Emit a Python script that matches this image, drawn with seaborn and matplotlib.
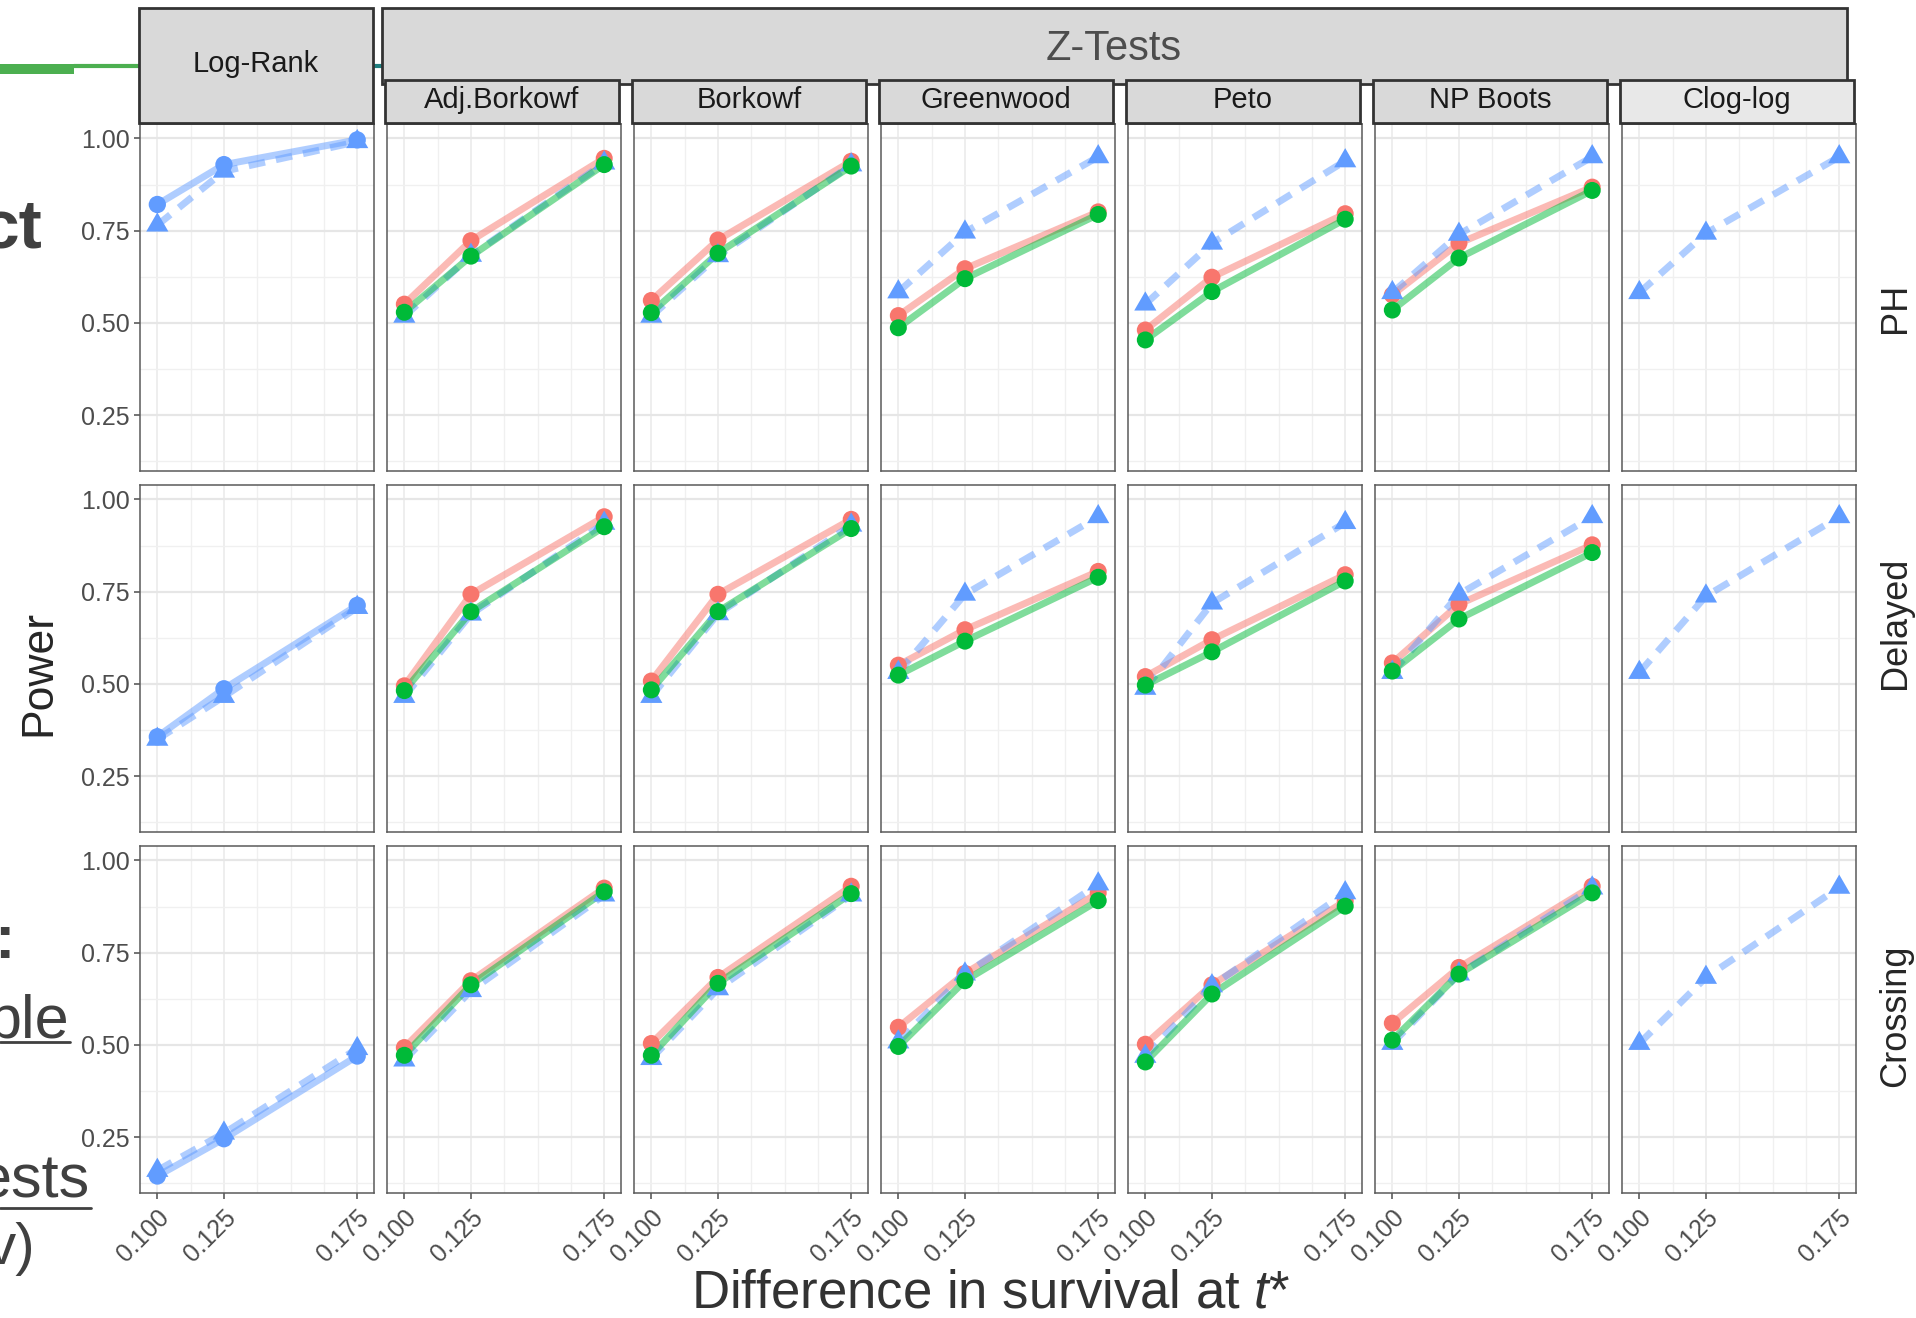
import matplotlib
matplotlib.use("Agg")
import matplotlib.pyplot as plt
from matplotlib.patches import Rectangle
from matplotlib.lines import Line2D
from matplotlib.ticker import FixedLocator, FormatStrFormatter
import pandas as pd
import seaborn as sns

sns.set_theme(style="white")
plt.rcParams["font.family"] = ["Liberation Sans", "DejaVu Sans"]
plt.rcParams["mathtext.fontset"] = "custom"
plt.rcParams["mathtext.rm"] = "Liberation Sans"
plt.rcParams["mathtext.it"] = "Liberation Sans:italic"

W, H, DPI = 1916, 1318, 100

# ---------------------------------------------------------------- data
delta = [0.100, 0.125, 0.175]
methods = ["Log-Rank", "Adj.Borkowf", "Borkowf", "Greenwood", "Peto", "NP Boots", "Clog-log"]
scenarios = ["PH", "Delayed", "Crossing"]

# Log-Rank test (two versions)
logrank_circle = {"PH": [0.821, 0.929, 0.996],
                  "Delayed": [0.357, 0.487, 0.713],
                  "Crossing": [0.145, 0.246, 0.470]}
logrank_triangle = {"PH": [0.765, 0.911, 0.991],
                    "Delayed": [0.350, 0.466, 0.707],
                    "Crossing": [0.160, 0.261, 0.490]}

# Z-tests, PH scenario
ph_red = {"Adj.Borkowf": [0.551, 0.723, 0.946], "Borkowf": [0.561, 0.725, 0.938],
          "Greenwood": [0.520, 0.647, 0.801], "Peto": [0.481, 0.624, 0.796],
          "NP Boots": [0.576, 0.716, 0.868]}
ph_green = {"Adj.Borkowf": [0.529, 0.681, 0.929], "Borkowf": [0.528, 0.689, 0.925],
            "Greenwood": [0.487, 0.620, 0.794], "Peto": [0.454, 0.585, 0.781],
            "NP Boots": [0.535, 0.676, 0.859]}
ph_blue = {"Adj.Borkowf": [0.518, 0.683, 0.933], "Borkowf": [0.518, 0.682, 0.928],
           "Greenwood": [0.584, 0.746, 0.950], "Peto": [0.551, 0.716, 0.939],
           "NP Boots": [0.582, 0.740, 0.950], "Clog-log": [0.582, 0.743, 0.950]}

# Z-tests, delayed effect scenario
delayed_red = {"Adj.Borkowf": [0.495, 0.743, 0.953], "Borkowf": [0.508, 0.743, 0.946],
               "Greenwood": [0.551, 0.647, 0.805], "Peto": [0.520, 0.620, 0.796],
               "NP Boots": [0.557, 0.716, 0.877]}
delayed_green = {"Adj.Borkowf": [0.482, 0.696, 0.926], "Borkowf": [0.484, 0.696, 0.921],
                 "Greenwood": [0.524, 0.616, 0.789], "Peto": [0.497, 0.587, 0.779],
                 "NP Boots": [0.535, 0.676, 0.856]}
delayed_blue = {"Adj.Borkowf": [0.466, 0.689, 0.935], "Borkowf": [0.466, 0.690, 0.930],
                "Greenwood": [0.531, 0.743, 0.953], "Peto": [0.488, 0.719, 0.937],
                "NP Boots": [0.531, 0.743, 0.953], "Clog-log": [0.531, 0.738, 0.953]}

# Z-tests, crossing hazards scenario
crossing_red = {"Adj.Borkowf": [0.493, 0.674, 0.925], "Borkowf": [0.504, 0.683, 0.930],
                "Greenwood": [0.548, 0.694, 0.912], "Peto": [0.502, 0.663, 0.890],
                "NP Boots": [0.559, 0.710, 0.930]}
crossing_green = {"Adj.Borkowf": [0.472, 0.663, 0.915], "Borkowf": [0.472, 0.667, 0.910],
                  "Greenwood": [0.496, 0.674, 0.891], "Peto": [0.454, 0.638, 0.876],
                  "NP Boots": [0.513, 0.692, 0.912]}
crossing_blue = {"Adj.Borkowf": [0.459, 0.647, 0.906], "Borkowf": [0.463, 0.652, 0.906],
                 "Greenwood": [0.508, 0.692, 0.936], "Peto": [0.469, 0.660, 0.912],
                 "NP Boots": [0.504, 0.692, 0.925], "Clog-log": [0.504, 0.683, 0.927]}

red_sets = {"PH": ph_red, "Delayed": delayed_red, "Crossing": crossing_red}
green_sets = {"PH": ph_green, "Delayed": delayed_green, "Crossing": crossing_green}
blue_sets = {"PH": ph_blue, "Delayed": delayed_blue, "Crossing": crossing_blue}

# ---------------------------------------------------------------- long table
# drawing order inside a panel: A (red), C (blue triangles), B (green), D (blue circles)
rows = []
for sc in scenarios:
    for m in methods:
        if m == "Log-Rank":
            series = [("C", logrank_triangle[sc]), ("D", logrank_circle[sc])]
        else:
            series = []
            if m in red_sets[sc]:
                series.append(("A", red_sets[sc][m]))
            series.append(("C", blue_sets[sc][m]))
            if m in green_sets[sc]:
                series.append(("B", green_sets[sc][m]))
        for name, vals in series:
            for d, v in zip(delta, vals):
                rows.append((sc, m, name, d, v))
df = pd.DataFrame(rows, columns=["scenario", "method", "series", "delta", "power"])

order = ["A", "C", "B", "D"]
palette = {"A": "#F8766D", "B": "#00BA38", "C": "#619CFF", "D": "#619CFF"}
dash_map = {"A": "", "B": "", "C": (2.4, 1.6), "D": ""}
tri = [(0.0, 0.577), (-0.5, -0.289), (0.5, -0.289)]
marker_map = {"A": "o", "B": "o", "C": tri, "D": "o"}
size_map = {"A": 150, "B": 150, "C": 340, "D": 155}

# ---------------------------------------------------------------- layout (pixels)
col_left = [140 + 247 * i for i in range(7)]
panel_w = 234
row_top = [124, 485, 846]
panel_h = 347


def fig_rect(l, t, w, h):
    return [l / W, 1 - (t + h) / H, w / W, h / H]


fig = plt.figure(figsize=(W / DPI, H / DPI), dpi=DPI)
fig.patch.set_facecolor("white")

for r, sc in enumerate(scenarios):
    for c, m in enumerate(methods):
        ax = fig.add_axes(fig_rect(col_left[c], row_top[r], panel_w, panel_h))
        sub = df[(df.scenario == sc) & (df.method == m)]
        present = [s for s in order if s in set(sub.series)]
        sns.lineplot(data=sub, x="delta", y="power", hue="series", style="series",
                     hue_order=present, style_order=present, palette=palette,
                     dashes=dash_map, linewidth=5.0, alpha=0.5, estimator=None,
                     sort=False, legend=False, ax=ax)
        sns.scatterplot(data=sub, x="delta", y="power", hue="series", style="series",
                        size="series", hue_order=present, style_order=present,
                        size_order=present, palette=palette, markers=marker_map,
                        sizes=size_map, linewidth=0, legend=False, ax=ax, zorder=3)
        ax.set_xlim(0.0935, 0.1813)
        ax.set_ylim(0.099, 1.039)
        ax.set_xlabel("")
        ax.set_ylabel("")
        ax.set_facecolor("white")
        ax.set_axisbelow(True)
        ax.xaxis.set_major_locator(FixedLocator(delta))
        ax.xaxis.set_minor_locator(FixedLocator([0.1125, 0.1375, 0.15, 0.1625]))
        ax.yaxis.set_major_locator(FixedLocator([0.25, 0.5, 0.75, 1.0]))
        ax.yaxis.set_minor_locator(FixedLocator([0.125, 0.375, 0.625, 0.875]))
        ax.grid(which="major", axis="y", color="#E6E6E6", lw=1.6)
        ax.grid(which="minor", axis="y", color="#F0F0F0", lw=1.0)
        ax.grid(which="major", axis="x", color="#EBEBEB", lw=1.2)
        ax.grid(which="minor", axis="x", color="#F0F0F0", lw=1.0)
        for sp in ax.spines.values():
            sp.set_visible(True)
            sp.set_color("#5A5A5A")
            sp.set_linewidth(1.1)
        ax.tick_params(which="minor", length=0)
        ax.tick_params(which="major", colors="#4D4D4D", labelsize=18,
                       length=4, width=1.1, direction="out")
        ax.tick_params(axis="y", pad=3.5)
        ax.tick_params(axis="x", pad=5)
        ax.yaxis.set_major_formatter(FormatStrFormatter("%.2f"))
        ax.xaxis.set_major_formatter(FormatStrFormatter("%.3f"))
        if c == 0:
            ax.tick_params(axis="y", left=True, labelleft=True)
        else:
            ax.tick_params(axis="y", left=False, labelleft=False)
        if r == len(scenarios) - 1:
            ax.tick_params(axis="x", bottom=True, labelbottom=True)
            for lbl in ax.get_xticklabels():
                lbl.set_rotation(45)
                lbl.set_ha("right")
                lbl.set_va("top")
                lbl.set_rotation_mode("anchor")
        else:
            ax.tick_params(axis="x", bottom=False, labelbottom=False)


def strip(x0, y0, x1, y1, fc="#D9D9D9"):
    fig.add_artist(Rectangle((x0 / W, 1 - y1 / H), (x1 - x0) / W, (y1 - y0) / H,
                             transform=fig.transFigure, facecolor=fc,
                             edgecolor="#333333", lw=2.0, zorder=5))


def ftext(x, y, s, **kw):
    return fig.text(x / W, 1 - y / H, s, **kw)


# slide decoration behind the chart
fig.add_artist(Rectangle((0, 1 - 74 / H), 74 / W, 10 / H, transform=fig.transFigure,
                         facecolor="#4CAF50", edgecolor="none", zorder=1))
fig.add_artist(Line2D([74 / W, 139 / W], [1 - 65.5 / H, 1 - 65.5 / H],
                      transform=fig.transFigure, color="#4CAF50", lw=3, zorder=1))
fig.add_artist(Line2D([372 / W, 383 / W], [1 - 65.5 / H, 1 - 65.5 / H],
                      transform=fig.transFigure, color="#1F7F7F", lw=3, zorder=1))

# facet strips
strip(139, 8, 373, 123)
ftext(256, 72, "Log-Rank", ha="center", va="baseline", fontsize=21, color="#1A1A1A", zorder=6)
strip(382, 8, 1847, 84)
ftext(1114, 60, "Z-Tests", ha="center", va="baseline", fontsize=30, color="#4D4D4D", zorder=6)
for c in range(1, 7):
    fc = "#E8E8E8" if methods[c] == "Clog-log" else "#D9D9D9"
    strip(col_left[c] - 2, 80, col_left[c] + panel_w - 2, 123, fc=fc)
    ftext(col_left[c] + panel_w / 2 - 2, 108, methods[c], ha="center", va="baseline",
          fontsize=21, color="#1A1A1A", zorder=6)

# row labels
row_label_y = [308, 623, 1016]
for r, sc in enumerate(scenarios):
    ftext(1905, row_label_y[r], sc, rotation=90, rotation_mode="anchor", ha="center",
          va="baseline", fontsize=26, color="#262626")

# axis titles
ftext(50, 673, "Power", rotation=90, rotation_mode="anchor", ha="center",
      va="baseline", fontsize=32, color="#262626")
ftext(991, 1308, r"Difference in survival at $t$*", ha="center", va="baseline",
      fontsize=38, color="#333333")

# slide text fragments at the left edge
ftext(42, 248, "ct", ha="right", va="baseline", fontsize=50, fontweight="bold", color="#404040")
ftext(14, 958, ":", ha="right", va="baseline", fontsize=44, fontweight="bold", color="#404040")
ftext(69, 1037, "ble", ha="right", va="baseline", fontsize=44, color="#404040")
fig.add_artist(Line2D([0, 70 / W], [1 - 1042 / H] * 2, transform=fig.transFigure,
                      color="#404040", lw=2))
ftext(90, 1198, "ests", ha="right", va="baseline", fontsize=44, color="#404040")
fig.add_artist(Line2D([0, 91 / W], [1 - 1208 / H] * 2, transform=fig.transFigure,
                      color="#404040", lw=2))
ftext(35, 1264, "v)", ha="right", va="baseline", fontsize=42, color="#404040")

fig.savefig("out.png", dpi=DPI)
